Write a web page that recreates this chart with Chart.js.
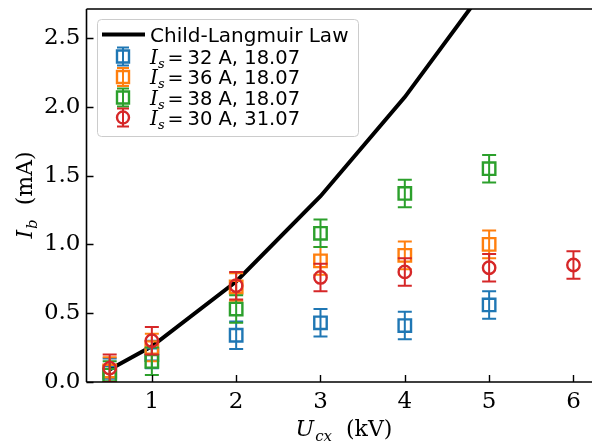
<!DOCTYPE html>
<html>
<head>
<meta charset="utf-8">
<script src="https://cdn.jsdelivr.net/npm/chart.js@4.4.0/dist/chart.umd.min.js"></script>
<style>
  html, body { margin: 0; padding: 0; background: #fff; }
</style>
</head>
<body>
<canvas id="grafico" width="592" height="445"></canvas>
<script>
// Dados
const voltage = [0.5, 1, 2, 3, 4, 5]
const voltageRed = [0.5, 1, 2, 3, 4, 5, 6]

const clVoltage = [0.5, 1, 2, 3, 4, 5]
const clCurrent = [0.09, 0.26, 0.73, 1.35, 2.07, 2.9]

const ib32 = [0.07, 0.20, 0.34, 0.43, 0.41, 0.56]
const ib36 = [0.08, 0.25, 0.69, 0.88, 0.92, 1.00]
const ib38 = [0.05, 0.15, 0.53, 1.08, 1.37, 1.55]
const ib30 = [0.10, 0.30, 0.70, 0.76, 0.80, 0.83, 0.85]

const err32 = [0.1, 0.1, 0.1, 0.1, 0.1, 0.1]
const err36 = [0.1, 0.1, 0.1, 0.1, 0.1, 0.1]
const err38 = [0.1, 0.1, 0.1, 0.1, 0.1, 0.1]
const err30 = [0.1, 0.1, 0.1, 0.1, 0.1, 0.1, 0.1]

const currents = ['32', '36', '38', '30']
const dates = ['18.07', '18.07', '18.07', '31.07']
const lineLabel = 'Child-Langmuir Law'

const xTicks = [1, 2, 3, 4, 5, 6]
const yTicks = [0, 0.5, 1, 1.5, 2, 2.5]

const cores = ['#1f77b4', '#ff7f0e', '#2ca02c', '#d62728']

const serif = 'DejaVu Serif'
const sans = 'DejaVu Sans'

function pontos(xs, ys) {
  return xs.map((x, i) => ({ x: x, y: ys[i] }))
}

function serie(xs, ys, errs, cor, estilo, raio, ordem) {
  return {
    data: pontos(xs, ys),
    errors: errs,
    showLine: false,
    pointStyle: estilo,
    pointRadius: raio,
    pointHoverRadius: raio,
    pointBorderWidth: 2.4,
    borderColor: cor,
    backgroundColor: 'rgba(0,0,0,0)',
    pointBackgroundColor: 'rgba(0,0,0,0)',
    order: ordem
  }
}

// Barras de erro, desenhadas antes de cada conjunto de marcadores
const barrasErro = {
  id: 'barrasErro',
  beforeDatasetDraw(chart, args) {
    const ds = chart.data.datasets[args.index]
    if (!ds.errors) return
    const ctx = chart.ctx
    const xs = chart.scales.x, ys = chart.scales.y
    ctx.save()
    ctx.beginPath()
    ctx.rect(chart.chartArea.left, chart.chartArea.top, chart.chartArea.right - chart.chartArea.left, chart.chartArea.bottom - chart.chartArea.top)
    ctx.clip()
    ctx.strokeStyle = ds.borderColor
    ctx.lineWidth = 2
    ds.data.forEach((p, i) => {
      const px = xs.getPixelForValue(p.x)
      const y1 = ys.getPixelForValue(p.y - ds.errors[i])
      const y2 = ys.getPixelForValue(p.y + ds.errors[i])
      ctx.beginPath()
      ctx.moveTo(px, y1); ctx.lineTo(px, y2)
      ctx.moveTo(px - 7, y1); ctx.lineTo(px + 7, y1)
      ctx.moveTo(px - 7, y2); ctx.lineTo(px + 7, y2)
      ctx.stroke()
    })
    ctx.restore()
  }
}

function textoMat(ctx, x, y, partes) {
  // partes: [texto, fonte, deslocamento vertical, espaço depois]
  let cx = x
  partes.forEach(p => {
    ctx.font = p[1]
    ctx.fillText(p[0], cx, y + (p[2] || 0))
    cx += ctx.measureText(p[0]).width + (p[3] || 0)
  })
  return cx - x
}

function larguraMat(ctx, partes) {
  let w = 0
  partes.forEach(p => {
    ctx.font = p[1]
    w += ctx.measureText(p[0]).width + (p[3] || 0)
  })
  return w
}

// Eixos, marcas internas, títulos e legenda
const moldura = {
  id: 'moldura',
  afterDraw(chart) {
    const ctx = chart.ctx
    const a = chart.chartArea
    const xs = chart.scales.x, ys = chart.scales.y
    ctx.save()
    ctx.strokeStyle = '#000'
    ctx.lineWidth = 1.6
    ctx.beginPath()
    ctx.moveTo(a.left, a.top); ctx.lineTo(a.right, a.top)
    ctx.moveTo(a.left, a.top); ctx.lineTo(a.left, a.bottom)
    ctx.moveTo(a.left, a.bottom); ctx.lineTo(a.right, a.bottom)
    ctx.stroke()

    ctx.lineWidth = 1.4
    ctx.beginPath()
    xTicks.forEach(v => {
      const px = Math.round(xs.getPixelForValue(v)) + 0.5
      ctx.moveTo(px, a.bottom); ctx.lineTo(px, a.bottom - 7)
    })
    yTicks.forEach(v => {
      const py = Math.round(ys.getPixelForValue(v)) + 0.5
      ctx.moveTo(a.left, py); ctx.lineTo(a.left + 7, py)
    })
    ctx.stroke()

    // títulos dos eixos
    ctx.fillStyle = '#000'
    ctx.textBaseline = 'alphabetic'
    ctx.textAlign = 'left'
    const tx = [
      ['U', 'italic 22px ' + serif, 0, 1],
      ['cx', 'italic 15px ' + serif, 5, 0],
      ['  (kV)', '22px ' + serif, 0, 0]
    ]
    const wx = larguraMat(ctx, tx)
    textoMat(ctx, 344 - wx / 2, 436, tx)

    const ty = [
      ['I', 'italic 22px ' + serif, 0, 1],
      ['b', 'italic 15px ' + serif, 5, 0],
      ['  (mA)', '22px ' + serif, 0, 0]
    ]
    const wy = larguraMat(ctx, ty)
    ctx.save()
    ctx.translate(32, 195)
    ctx.rotate(-Math.PI / 2)
    textoMat(ctx, -wy / 2, 0, ty)
    ctx.restore()

    // legenda
    const lx = 97, ly = 19, lw = 261, lh = 117
    ctx.fillStyle = 'rgba(255,255,255,0.8)'
    ctx.strokeStyle = '#cccccc'
    ctx.lineWidth = 1
    ctx.beginPath()
    ctx.roundRect(lx + 0.5, ly + 0.5, lw, lh, 4)
    ctx.fill()
    ctx.stroke()

    ctx.strokeStyle = '#000'
    ctx.lineWidth = 4
    ctx.beginPath()
    ctx.moveTo(102, 34.5); ctx.lineTo(145, 34.5)
    ctx.stroke()
    ctx.fillStyle = '#000'
    ctx.font = '20px ' + sans
    ctx.fillText(lineLabel, 150, 41.5)

    const linhas = [56.5, 77, 97.5, 117.5]
    linhas.forEach((cy, i) => {
      const cor = cores[i]
      const mx = 123
      ctx.strokeStyle = cor
      ctx.lineWidth = 2
      ctx.beginPath()
      ctx.moveTo(mx, cy - 9); ctx.lineTo(mx, cy + 9)
      ctx.moveTo(mx - 6, cy - 9); ctx.lineTo(mx + 6, cy - 9)
      ctx.moveTo(mx - 6, cy + 9); ctx.lineTo(mx + 6, cy + 9)
      ctx.stroke()
      ctx.lineWidth = 2.4
      ctx.beginPath()
      if (i === 3) {
        ctx.arc(mx, cy, 6, 0, Math.PI * 2)
      } else {
        ctx.rect(mx - 6, cy - 6, 12, 12)
      }
      ctx.stroke()
      ctx.fillStyle = '#000'
      textoMat(ctx, 150, cy + 7, [
        ['I', 'italic 20px ' + serif, 0, 0],
        ['s', 'italic 13px ' + serif, 4, 3],
        ['=', '19px ' + sans, 0, 4],
        [currents[i] + ' A, ' + dates[i], '19.5px ' + sans, 0, 0]
      ])
    })
    ctx.restore()
  }
}

const ctx_grafico = document.getElementById('grafico')

let grafico = new Chart(ctx_grafico, {

  type: 'scatter',

  data: {

    datasets: [
      {
        label: lineLabel,
        data: pontos(clVoltage, clCurrent),
        showLine: true,
        borderColor: '#000',
        borderWidth: 4,
        pointRadius: 0,
        pointHoverRadius: 0,
        tension: 0,
        order: 5
      },
      serie(voltage, ib32, err32, cores[0], 'rect', 8.8, 4),
      serie(voltage, ib36, err36, cores[1], 'rect', 8.8, 3),
      serie(voltage, ib38, err38, cores[2], 'rect', 8.8, 2),
      serie(voltageRed, ib30, err30, cores[3], 'circle', 6.2, 1)
    ]

  },

  options: {

    responsive: false,
    animation: false,
    layout: { autoPadding: false, padding: { top: 9, right: 0, left: 0, bottom: 0 } },

    plugins: {
      legend: { display: false },
      tooltip: { enabled: false }
    },

    scales: {

      x: {
        type: 'linear',
        min: 0.225,
        max: 6.22,
        afterBuildTicks: s => { s.ticks = xTicks.map(v => ({ value: v })) },
        afterFit: s => {
          s.height = 63
          s.paddingLeft = 0
          s.paddingRight = 0
        },
        grid: { display: false, drawTicks: false },
        border: { display: false },
        ticks: {
          color: '#000',
          font: { family: serif, size: 23 },
          padding: 6,
          maxRotation: 0,
          callback: v => String(v)
        }
      },

      y: {
        type: 'linear',
        min: 0,
        max: 2.71,
        afterBuildTicks: s => { s.ticks = yTicks.map(v => ({ value: v })) },
        afterFit: s => {
          s.width = 86.5
          s.paddingTop = 0
          s.paddingBottom = 0
        },
        grid: { display: false, drawTicks: false },
        border: { display: false },
        ticks: {
          color: '#000',
          font: { family: serif, size: 23 },
          padding: 6,
          callback: v => v.toFixed(1)
        }
      }

    }

  },

  plugins: [barrasErro, moldura]

})
</script>
</body>
</html>
